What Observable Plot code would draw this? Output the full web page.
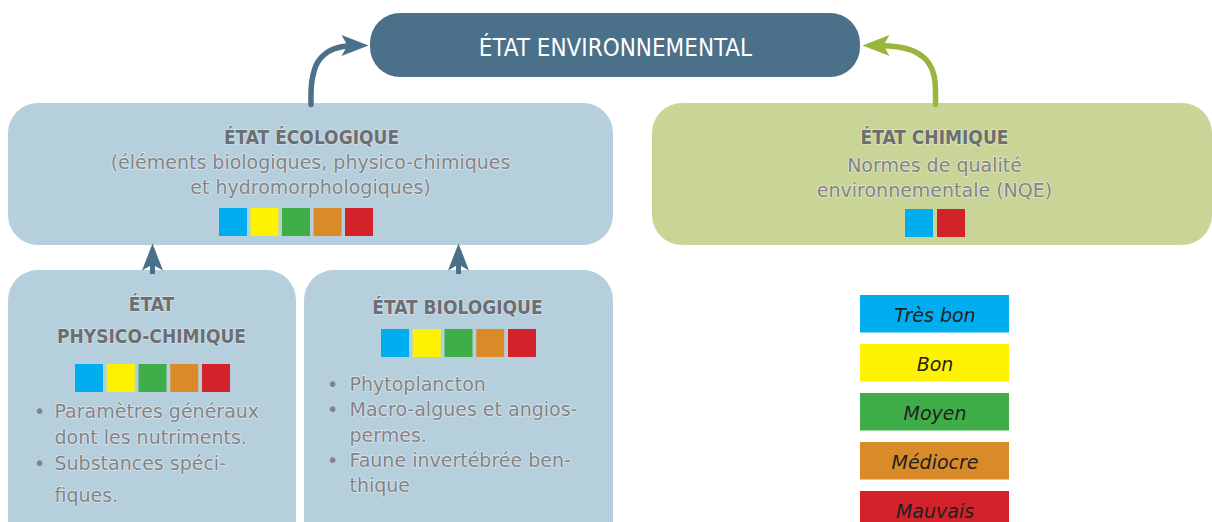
<!DOCTYPE html>
<html><head><meta charset="utf-8">
<script src="https://cdn.jsdelivr.net/npm/d3@7"></script>
<script src="https://cdn.jsdelivr.net/npm/@observablehq/plot@0.6"></script>
<style>html,body{margin:0;padding:0;background:#fff;} #chart svg{display:block;}</style>
</head><body><div id="chart"></div>
<script>
// ---------- DATA (texts and categories) ----------
const title = "ÉTAT ENVIRONNEMENTAL";
const qualityClasses = ["Très bon", "Bon", "Moyen", "Médiocre", "Mauvais"];
const classColors = ["#00aeef", "#fff200", "#3fae49", "#d98a29", "#d2232a"];
const ecoTitle = "ÉTAT ÉCOLOGIQUE";
const ecoLines = ["(éléments biologiques, physico-chimiques", "et hydromorphologiques)"];
const chemTitle = "ÉTAT CHIMIQUE";
const chemLines = ["Normes de qualité", "environnementale (NQE)"];
const chemClasses = ["Très bon", "Mauvais"];
const physicoTitle = ["ÉTAT", "PHYSICO-CHIMIQUE"];
const physicoItems = [["Paramètres généraux", "dont les nutriments."], ["Substances spéci-", "fiques."]];
const bioTitle = "ÉTAT BIOLOGIQUE";
const bioItems = [["Phytoplancton"], ["Macro-algues et angios-", "permes."], ["Faune invertébrée ben-", "thique"]];

// ---------- LAYOUT (positions / styles) ----------
const W = 1212, H = 522;
const C = {dark: "#4b708a", light: "#b6cfdd", chem: "#c9d497", green: "#9ab53b", head: "#6d6e71", body: "#838386", legendText: "#231f20"};
const boxes = [
  {x1: 370, x2: 860, y1: 13, y2: 77, fill: C.dark},
  {x1: 8, x2: 613, y1: 103, y2: 245, fill: C.light},
  {x1: 652, x2: 1212, y1: 103, y2: 245, fill: C.chem},
  {x1: 8, x2: 296, y1: 270, y2: 570, fill: C.light},
  {x1: 304, x2: 613, y1: 270, y2: 570, fill: C.light}
];
const SW = 28;
const swatchGroups = [
  {classes: qualityClasses, x0: 219, step: 31.5, y: 208},
  {classes: qualityClasses, x0: 75, step: 31.75, y: 364},
  {classes: qualityClasses, x0: 381, step: 31.75, y: 329},
  {classes: chemClasses, x0: 905, step: 32, y: 209}
];
const swatches = swatchGroups.flatMap(g => g.classes.map((c, i) => ({cls: c, x1: g.x0 + i * g.step, x2: g.x0 + i * g.step + SW, y1: g.y, y2: g.y + SW})));
const legend = qualityClasses.map((c, i) => ({cls: c, x1: 860, x2: 1009, y1: 295 + i * 49, y2: 295 + i * 49 + 37.5, tx: 934.5, base: 321.5 + i * 49}));

const fsTitle = 24, fsHead = 19, fsBody = 19, fsLeg = 19;
const mid = (base, fs) => base - 0.32 * fs;
const heads = [
  {x: 311, base: 143, text: ecoTitle},
  {x: 934, base: 143, text: chemTitle},
  {x: 151, base: 310, text: physicoTitle[0]},
  {x: 151, base: 342, text: physicoTitle[1]},
  {x: 457, base: 313, text: bioTitle}
].map(d => ({...d, y: mid(d.base, fsHead)}));
const centered = [
  {x: 310, base: 168, text: ecoLines[0]},
  {x: 310, base: 193, text: ecoLines[1]},
  {x: 934, base: 171, text: chemLines[0]},
  {x: 934, base: 196, text: chemLines[1]}
].map(d => ({...d, y: mid(d.base, fsBody)}));
function bulletRows(items, bx, tx, bases) {
  const rows = [], bullets = [];
  let k = 0;
  items.forEach(lines => {
    lines.forEach((t, j) => {
      const y = mid(bases[k++], fsBody);
      if (j === 0) bullets.push({x: bx, y, text: "•"});
      rows.push({x: tx, y, text: t});
    });
  });
  return {rows, bullets};
}
const phy = bulletRows(physicoItems, 39, 54, [417, 443, 469, 501]);
const bio = bulletRows(bioItems, 332, 349, [390, 415.5, 441, 466, 491]);

const curveBlue = [{x: 310.5, y: 104}, {x: 311.5, y: 80}, {x: 317, y: 62}, {x: 328, y: 51}, {x: 340, y: 46.5}, {x: 356, y: 45}];
const curveGreen = [{x: 935, y: 104}, {x: 933.5, y: 75}, {x: 927, y: 61}, {x: 915, y: 51.5}, {x: 898, y: 46.5}, {x: 874, y: 45}];
const headsBlue = [{x: 368, y: 45, rot: 90}, {x: 152, y: 243, rot: 0}, {x: 458, y: 243, rot: 0}];
const headsGreen = [{x: 862, y: 45, rot: -90}];
const shafts = [{x: 152, y1: 258, y2: 274}, {x: 458, y1: 258, y2: 274}];

const arrowHead = {draw(ctx) { ctx.moveTo(0, 0); ctx.lineTo(10.5, 27); ctx.lineTo(0, 21); ctx.lineTo(-10.5, 27); ctx.closePath(); }};

const bodyFont = "'DejaVu Sans', sans-serif";
const condFont = "'DejaVu Sans Condensed', 'DejaVu Sans', sans-serif";

const chart = Plot.plot({
  width: W, height: H, margin: 0,
  x: {domain: [0, W], axis: null},
  y: {domain: [0, H], reverse: true, axis: null},
  color: {domain: qualityClasses, range: classColors},
  style: {background: "#fff"},
  marks: [
    Plot.rect(boxes, {x1: "x1", x2: "x2", y1: "y1", y2: "y2", fill: d => d.fill, rx: 30, ry: 30}),
    Plot.line(curveBlue, {x: "x", y: "y", curve: "catmull-rom", stroke: C.dark, strokeWidth: 5.5}),
    Plot.line(curveGreen, {x: "x", y: "y", curve: "catmull-rom", stroke: C.green, strokeWidth: 5.5}),
    Plot.ruleX(shafts, {x: "x", y1: "y1", y2: "y2", stroke: C.dark, strokeWidth: 5}),
    Plot.dot(headsBlue, {x: "x", y: "y", rotate: "rot", symbol: arrowHead, fill: C.dark, stroke: "none"}),
    Plot.dot(headsGreen, {x: "x", y: "y", rotate: "rot", symbol: arrowHead, fill: C.green, stroke: "none"}),
    Plot.rect(swatches, {x1: "x1", x2: "x2", y1: "y1", y2: "y2", fill: "cls"}),
    Plot.rect(legend, {x1: "x1", x2: "x2", y1: "y1", y2: "y2", fill: "cls"}),
    Plot.text([title], {x: 615, y: mid(55, fsTitle), text: d => d, fill: "#fff", fontSize: fsTitle, fontFamily: condFont, lineAnchor: "middle"}),
    Plot.text(heads, {x: "x", y: "y", text: "text", fill: C.head, fontSize: fsHead, fontWeight: "bold", fontFamily: condFont, lineAnchor: "middle", stroke: "#fff", strokeWidth: 1.5, strokeOpacity: 0.4}),
    Plot.text(centered, {x: "x", y: "y", text: "text", fill: C.body, fontSize: fsBody, fontFamily: bodyFont, lineAnchor: "middle", stroke: "#fff", strokeWidth: 1.5, strokeOpacity: 0.5}),
    Plot.text([...phy.rows, ...bio.rows], {x: "x", y: "y", text: "text", fill: C.body, fontSize: fsBody, fontFamily: bodyFont, textAnchor: "start", lineAnchor: "middle", stroke: "#fff", strokeWidth: 1.5, strokeOpacity: 0.5}),
    Plot.text([...phy.bullets, ...bio.bullets], {x: "x", y: "y", text: "text", fill: C.body, fontSize: fsBody, fontFamily: bodyFont, lineAnchor: "middle"}),
    Plot.text(legend, {x: "tx", y: d => mid(d.base, fsLeg), text: "cls", fill: C.legendText, fontSize: fsLeg, fontStyle: "italic", fontFamily: bodyFont, lineAnchor: "middle"})
  ]
});
document.getElementById("chart").appendChild(chart);
</script>
</body></html>
